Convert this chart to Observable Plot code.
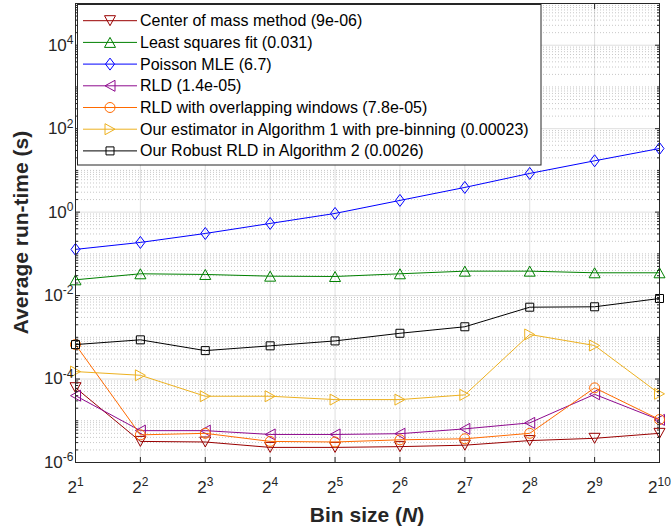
<!DOCTYPE html>
<html><head><meta charset="utf-8">
<script src="https://cdn.jsdelivr.net/npm/d3@7"></script>
<script src="https://cdn.jsdelivr.net/npm/@observablehq/plot@0.6"></script>
<style>
body{margin:0;background:#fff;}
</style></head><body><div id="chart"></div>
<script>
// ---- data ----
const binSizes = [2, 4, 8, 16, 32, 64, 128, 256, 512, 1024];
const centerOfMass = [6.2e-5, 3.2e-6, 3.1e-6, 2.3e-6, 2.3e-6, 2.4e-6, 2.6e-6, 3.35e-6, 3.8e-6, 5.0e-6];
const leastSquares = [0.0239, 0.0333, 0.0321, 0.0292, 0.0287, 0.0333, 0.0385, 0.0385, 0.0352, 0.0352];
const poissonMLE = [0.128, 0.188, 0.308, 0.536, 0.93, 1.91, 3.91, 8.47, 17.0, 33.5];
const rld = [4.0e-5, 5.8e-6, 5.8e-6, 4.7e-6, 4.7e-6, 4.9e-6, 6.4e-6, 8.9e-6, 4.3e-5, 1.05e-5];
const rldOverlap = [6.7e-4, 4.6e-6, 5.0e-6, 3.2e-6, 3.1e-6, 3.5e-6, 3.7e-6, 5.0e-6, 6.15e-5, 1.07e-5];
const algorithm1 = [1.51e-4, 1.23e-4, 3.87e-5, 3.87e-5, 3.22e-5, 3.22e-5, 4.18e-5, 1.17e-3, 6.36e-4, 4.42e-5];
const robustRLD = [6.7e-4, 8.7e-4, 4.8e-4, 6.25e-4, 8.2e-4, 1.25e-3, 1.79e-3, 5.27e-3, 5.39e-3, 8.52e-3];
const seriesNames = [
  "Center of mass method (9e-06)",
  "Least squares fit (0.031)",
  "Poisson MLE (6.7)",
  "RLD (1.4e-05)",
  "RLD with overlapping windows (7.8e-05)",
  "Our estimator in Algorithm 1 with pre-binning (0.00023)",
  "Our Robust RLD in Algorithm 2 (0.0026)"
];
const yTickValues = [1e-6, 1e-4, 1e-2, 1, 1e2, 1e4];
const xLabel = "Bin size (";
const xLabelItalic = "N";
const yLabel = "Average run-time (s)";

// ---- styles ----
const seriesColors = ["#990000", "#008000", "#0000ff", "#8e0a8e", "#ff6a00", "#edb120", "#000000"];
const symbols = {
  down: {draw(c){c.moveTo(-5.5,-5);c.lineTo(5.5,-5);c.lineTo(0,5);c.closePath();}},
  up: {draw(c){c.moveTo(0,-5);c.lineTo(5.5,5);c.lineTo(-5.5,5);c.closePath();}},
  diamond: {draw(c){c.moveTo(0,-6);c.lineTo(4.5,0);c.lineTo(0,6);c.lineTo(-4.5,0);c.closePath();}},
  left: {draw(c){c.moveTo(-5,0);c.lineTo(5,-5.5);c.lineTo(5,5.5);c.closePath();}},
  circle: {draw(c){c.moveTo(5,0);c.arc(0,0,5,0,2*Math.PI);c.closePath();}},
  right: {draw(c){c.moveTo(5,0);c.lineTo(-5,-5.5);c.lineTo(-5,5.5);c.closePath();}},
  square: {draw(c){c.rect(-4,-4,8,8);}}
};
const seriesSymbols = [symbols.down, symbols.up, symbols.diamond, symbols.left, symbols.circle, symbols.right, symbols.square];
const seriesValues = [centerOfMass, leastSquares, poissonMLE, rld, rldOverlap, algorithm1, robustRLD];

const series = seriesNames.map((name, i) => ({
  name, color: seriesColors[i], symbol: seriesSymbols[i],
  data: binSizes.map((x, j) => ({x, y: seriesValues[i][j]}))
}));

const minorY = [];
for (let e = -6; e <= 4; e++) for (let m = 1; m <= 9; m++) {
  const v = m * Math.pow(10, e);
  if (m === 1 && e % 2 === 0) continue;
  minorY.push(v);
}
const innerX = binSizes.slice(1, -1);
const innerMajorY = yTickValues.slice(1);

const ink = "#262626";
const marks = [
  Plot.gridY(minorY, {stroke: "#000", strokeOpacity: 0.22, strokeDasharray: "1,2"}),
  Plot.gridY(innerMajorY, {stroke: "#000", strokeOpacity: 0.13}),
  Plot.gridX(innerX, {stroke: "#000", strokeOpacity: 0.13}),
];
for (const s of series) {
  marks.push(Plot.line(s.data, {x: "x", y: "y", stroke: s.color, strokeWidth: 1}));
  marks.push(Plot.dot(s.data, {x: "x", y: "y", stroke: s.color, fill: "none", strokeWidth: 1, symbol: s.symbol, r: 5}));
}
marks.push(
  Plot.axisY(yTickValues, {anchor: "left", tickSize: 0, tickPadding: 2, label: null, color: ink, fontSize: 17,
    tickFormat: d => `10^${Math.round(Math.log10(d))}`}),
  Plot.axisY(yTickValues, {anchor: "left", tickSize: 5, insetLeft: 5, label: null, color: ink, tickFormat: () => ""}),
  Plot.axisY(yTickValues, {anchor: "right", tickSize: 5, insetRight: 5, label: null, color: ink, tickFormat: () => ""}),
  Plot.axisY(minorY, {anchor: "left", tickSize: 3, insetLeft: 3, label: null, color: ink, tickFormat: () => ""}),
  Plot.axisY(minorY, {anchor: "right", tickSize: 3, insetRight: 3, label: null, color: ink, tickFormat: () => ""}),
  Plot.axisX(binSizes, {anchor: "bottom", tickSize: 0, tickPadding: 18, label: null, color: ink, fontSize: 17,
    tickFormat: d => `2^${Math.round(Math.log2(d))}`}),
  Plot.axisX(binSizes, {anchor: "bottom", tickSize: 5, insetBottom: 5, label: null, color: ink, tickFormat: () => ""}),
  Plot.axisX(binSizes, {anchor: "top", tickSize: 5, insetTop: 5, label: null, color: ink, tickFormat: () => ""}),
  Plot.frame({stroke: ink, strokeWidth: 1})
);

const plot = Plot.plot({
  width: 671, height: 531,
  marginLeft: 75, marginRight: 12, marginTop: 3, marginBottom: 69,
  style: {fontFamily: "'Liberation Sans', Arial, sans-serif", fontSize: "17px", background: "#fff", color: ink},
  x: {type: "log", base: 2, domain: [2, 1024]},
  y: {type: "log", domain: [1e-6, 1e5]},
  marks
});
document.getElementById("chart").appendChild(plot);

const svg = d3.select(plot);
// superscripts in tick labels
svg.selectAll('g[aria-label="y-axis tick label"] text, g[aria-label="x-axis tick label"] text').each(function() {
  const t = d3.select(this);
  const s = t.text();
  if (!s.includes("^")) return;
  const [b, e] = s.split("^");
  t.text(null);
  t.append("tspan").text(b);
  t.append("tspan").attr("dy", "-0.55em").attr("font-size", "12px").text(e);
});

const xs = plot.scale("x"), ys = plot.scale("y");
const [rx0, rx1] = xs.range, [ry0, ry1] = ys.range;
// axis labels
svg.append("text")
  .attr("x", (rx0 + rx1) / 2).attr("y", 514)
  .attr("text-anchor", "middle").attr("dominant-baseline", "central")
  .attr("font-size", 21).attr("font-weight", "bold").attr("fill", ink)
  .call(t => { t.append("tspan").text(xLabel); t.append("tspan").attr("font-style", "italic").text(xLabelItalic); t.append("tspan").text(")"); });
svg.append("text")
  .attr("transform", `translate(20,${(ry0 + ry1) / 2}) rotate(-90)`)
  .attr("text-anchor", "middle").attr("dominant-baseline", "central")
  .attr("font-size", 21).attr("font-weight", "bold").attr("fill", ink)
  .text(yLabel);

// legend
const lg = svg.append("g");
lg.append("rect").attr("x", 77.5).attr("y", 4.5).attr("width", 463.5).attr("height", 160.5)
  .attr("fill", "#fff").attr("stroke", ink).attr("stroke-width", 1);
series.forEach((s, i) => {
  const cy = 20.7 + 21.7 * i;
  lg.append("line").attr("x1", 83).attr("x2", 137).attr("y1", cy).attr("y2", cy)
    .attr("stroke", s.color).attr("stroke-width", 1);
  const p = d3.path(); s.symbol.draw(p);
  lg.append("path").attr("d", p.toString()).attr("transform", `translate(110,${cy})`)
    .attr("fill", "none").attr("stroke", s.color).attr("stroke-width", 1);
  lg.append("text").attr("x", 140).attr("y", cy).attr("dominant-baseline", "central")
    .attr("text-anchor", "start")
    .attr("font-size", 16).attr("fill", "#000").text(s.name);
});
</script></body></html>
